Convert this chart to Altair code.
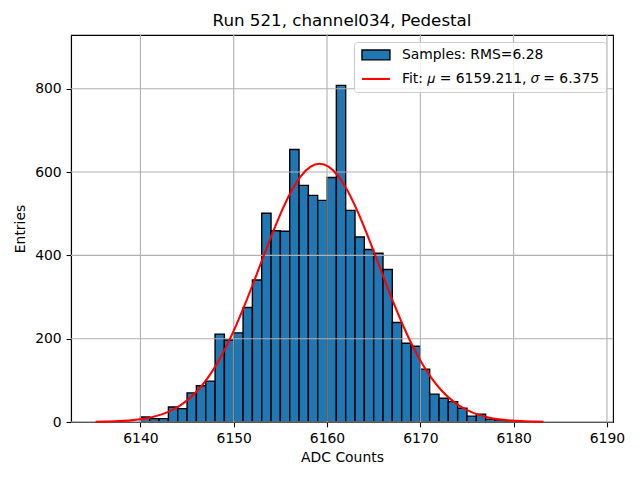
import altair as alt
import pandas as pd

# ---- data ----
bin_left = [6140, 6141, 6142, 6143, 6144, 6145, 6146, 6147, 6148, 6149,
            6150, 6151, 6152, 6153, 6154, 6155, 6156, 6157, 6158, 6159,
            6160, 6161, 6162, 6163, 6164, 6165, 6166, 6167, 6168, 6169,
            6170, 6171, 6172, 6173, 6174, 6175, 6176, 6177, 6178, 6179,
            6180]
counts = [12, 8, 8, 36, 32, 70, 87, 98, 211, 197,
          214, 275, 341, 501, 459, 458, 654, 568, 544, 532,
          587, 808, 508, 444, 414, 405, 366, 239, 189, 182,
          127, 67, 57, 49, 33, 14, 19, 7, 5, 3,
          1]
bin_width = 1

fit_x = [6135.2, 6136.2, 6137.2, 6138.2, 6139.2, 6140.2, 6141.2, 6142.2, 6143.2, 6144.2,
         6145.2, 6146.2, 6147.2, 6148.2, 6149.2, 6150.2, 6151.2, 6152.2, 6153.2, 6154.2,
         6155.2, 6156.2, 6157.2, 6158.2, 6159.2, 6160.2, 6161.2, 6162.2, 6163.2, 6164.2,
         6165.2, 6166.2, 6167.2, 6168.2, 6169.2, 6170.2, 6171.2, 6172.2, 6173.2, 6174.2,
         6175.2, 6176.2, 6177.2, 6178.2, 6179.2, 6180.2, 6181.2, 6182.2, 6183.2]
fit_y = [0.5, 0.9, 1.6, 2.7, 4.5, 7.3, 11.5, 17.7, 26.6, 38.9,
         55.6, 77.5, 105.5, 139.9, 181.2, 228.8, 282.1, 339.3, 398.2, 455.8,
         509.2, 555.0, 590.2, 612.4, 620.0, 612.4, 590.2, 555.0, 509.2, 455.8,
         398.2, 339.3, 282.1, 228.8, 181.2, 139.9, 105.5, 77.5, 55.6, 38.9,
         26.6, 17.7, 11.5, 7.3, 4.5, 2.7, 1.6, 0.9, 0.5]

x_ticks = [6140, 6150, 6160, 6170, 6180, 6190]
y_ticks = [0, 200, 400, 600, 800]

label_samples = "Samples: RMS=6.28"
label_fit = "Fit: \U0001D707 = 6159.211, \U0001D70E = 6.375"
title_text = "Run 521, channel034, Pedestal"

FONT = "DejaVu Sans"
BLUE = "#1f77b4"

hist_df = pd.DataFrame({
    "left": bin_left,
    "right": [b + bin_width for b in bin_left],
    "count": counts,
    "base": [0] * len(counts),
})
fit_df = pd.DataFrame({"x": fit_x, "y": fit_y})
xgrid_df = pd.DataFrame({"v": x_ticks})
ygrid_df = pd.DataFrame({"v": y_ticks})
# legend entries (points kept outside the clipped plot area, only the legend shows)
legend_df = pd.DataFrame({"series": [label_samples, label_fit],
                          "x": [6000, 6000], "y": [0, 0]})

xscale = alt.Scale(domain=[6132.56, 6190.65], nice=False, zero=False)
yscale = alt.Scale(domain=[0, 929], nice=False, zero=False)

series_domain = [label_samples, label_fit]
RECT_PATH = "M-2.8,-0.98L2.8,-0.98L2.8,0.98L-2.8,0.98Z"
LINE_PATH = "M-2.8,0L2.8,0"

legend = alt.Legend(
    title=None,
    orient="top-right",
    offset=7,
    padding=6,
    fillColor="rgba(255,255,255,0.8)",
    strokeColor="#cccccc",
    cornerRadius=3,
    labelFont=FONT,
    labelFontSize=13.9,
    labelColor="black",
    labelLimit=500,
    symbolSize=100,
    symbolOffset=9,
    labelOffset=19,
    rowPadding=8,
    symbolOpacity=1,
)

xaxis = alt.Axis(values=x_ticks, title="ADC Counts", format="d", titlePadding=5)
yaxis = alt.Axis(values=y_ticks, title="Entries", format="d", titlePadding=7)

bars = alt.Chart(hist_df).mark_rect(fill=BLUE, stroke="black", strokeWidth=1.39).encode(
    x=alt.X("left:Q", scale=xscale, axis=xaxis),
    x2="right:Q",
    y=alt.Y("count:Q", scale=yscale, axis=yaxis),
    y2="base:Q",
)

xgrid = alt.Chart(xgrid_df).mark_rule(color="#b0b0b0", strokeWidth=1.1).encode(
    x=alt.X("v:Q", scale=xscale)
)
ygrid = alt.Chart(ygrid_df).mark_rule(color="#b0b0b0", strokeWidth=1.1).encode(
    y=alt.Y("v:Q", scale=yscale)
)

line = alt.Chart(fit_df).mark_line(color="red", strokeWidth=2.08, interpolate="monotone").encode(
    x=alt.X("x:Q", scale=xscale),
    y=alt.Y("y:Q", scale=yscale),
)

keys = alt.Chart(legend_df).mark_point(filled=True, clip=True, size=100).encode(
    x=alt.X("x:Q", scale=xscale),
    y=alt.Y("y:Q", scale=yscale),
    fill=alt.Fill("series:N", scale=alt.Scale(domain=series_domain, range=[BLUE, "transparent"]), legend=legend),
    stroke=alt.Stroke("series:N", scale=alt.Scale(domain=series_domain, range=["black", "red"]), legend=legend),
    shape=alt.Shape("series:N", scale=alt.Scale(domain=series_domain, range=[RECT_PATH, LINE_PATH]), legend=legend),
    strokeWidth=alt.StrokeWidth("series:O", scale=alt.Scale(domain=series_domain, range=[1.39, 2.08]), legend=legend),
)

chart = alt.layer(bars, xgrid, ygrid, line, keys).properties(
    width=542,
    height=387,
    title=alt.Title(title_text, font=FONT, fontSize=16.7, fontWeight="normal",
                    color="black", anchor="middle", offset=5),
    padding={"left": 63, "top": 27, "right": 19, "bottom": 50},
    autosize=alt.AutoSizeParams(type="none"),
).configure_view(
    stroke="black", strokeWidth=1.1
).configure_axis(
    labelFont=FONT, labelFontSize=13.9, labelColor="black",
    titleFont=FONT, titleFontSize=13.9, titleFontWeight="normal", titleColor="black",
    tickColor="black", tickSize=4.9, tickWidth=1.1,
    domainColor="black", domainWidth=1.1, grid=False, labelPadding=4.9,
)

chart.save("out.html", embed_options={"renderer": "svg", "actions": False})
